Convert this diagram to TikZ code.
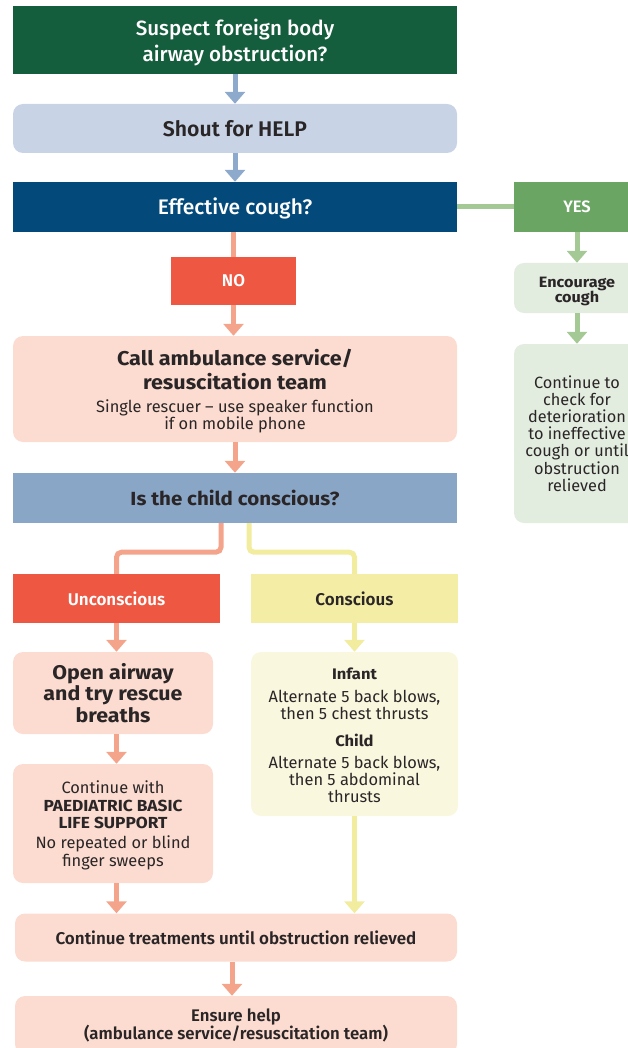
\documentclass[tikz,border=0pt]{standalone}
\usepackage{fontspec}
\setmainfont{Fira Sans}[BoldFeatures={FakeStretch=1.08}]
\IfFontExistsTF{Fira Sans SemiBold}
  {\newfontfamily\semib{Fira Sans SemiBold}}
  {\newcommand\semib{\bfseries}}
\IfFontExistsTF{Fira Sans Medium}
  {\newfontfamily\medfont{Fira Sans Medium}}
  {\newfontfamily\medfont{Fira Sans}}
\usetikzlibrary{arrows.meta}

% palette
\definecolor{dkgreen}{HTML}{155E3D}
\definecolor{navy}{HTML}{034A7B}
\definecolor{helpfill}{HTML}{C8D4E5}
\definecolor{consfill}{HTML}{8AA6C7}
\definecolor{bluearr}{HTML}{8DA9CC}
\definecolor{salmon}{HTML}{F4A48B}
\definecolor{alert}{HTML}{EE5843}
\definecolor{pink}{HTML}{FCDCD0}
\definecolor{yelline}{HTML}{F2EC9E}
\definecolor{yelbox}{HTML}{F3EDA6}
\definecolor{yelfill}{HTML}{FAF7DF}
\definecolor{grn}{HTML}{6BA563}
\definecolor{grnline}{HTML}{A4C995}
\definecolor{grnfill}{HTML}{E2ECDF}
\definecolor{ink}{HTML}{2A2526}

% font size with fixed baseline distance
\newcommand\setfs[2]{\lineskiplimit=-100pt\lineskip=0pt\fontsize{#1}{#2}\selectfont}
% invisible strut that makes a first line taller
\newcommand\tallrow[1]{\rule{0pt}{#1}}

\begin{document}
\begin{tikzpicture}[x=1pt,y=-1pt,
  box/.style={inner sep=0pt, align=center, text=ink},
  sq/.style={box, rectangle},
  rnd/.style={box, rectangle, rounded corners=10pt},
  tip/.style={-{Triangle[width=20pt,length=12pt]}},
  conn/.style={line width=5pt},
  barr/.style={conn, tip, draw=bluearr},
  sarr/.style={conn, tip, draw=salmon},
  slink/.style={conn, draw=salmon},
  yarr/.style={conn, tip, draw=yelline},
  ylink/.style={conn, draw=yelline},
  garr/.style={conn, tip, draw=grnline},
  glink/.style={conn, draw=grnline},
]
\useasboundingbox (0,0) rectangle (628,1048);

% main column
\node[sq, fill=dkgreen, text=white, minimum width=444pt, minimum height=68pt,
      font=\setfs{20.6}{26.7}\medfont] (suspect) at (235,40)
  {\tallrow{21.7pt}Suspect foreign body\\airway obstruction?};
\node[rnd, fill=helpfill, minimum width=444pt, minimum height=49pt,
      font=\setfs{21.2}{24}\semib] (help) at (235,128.5) {Shout for HELP};
\node[sq, fill=navy, text=white, minimum width=444pt, minimum height=50pt,
      font=\setfs{21}{24}\medfont] (cough) at (235,207) {\tallrow{20pt}Effective cough?};

% YES branch
\node[sq, fill=grn, text=white, minimum width=126pt, minimum height=50pt,
      font=\setfs{16.5}{18}\semib] (yes) at (577,207) {YES};
\node[rnd, fill=grnfill, minimum width=126pt, minimum height=50pt,
      font=\setfs{15}{15.7}] (encourage) at (577,288)
  {\tallrow{17.4pt}\bfseries Encourage\\\bfseries cough};
\node[rnd, fill=grnfill, minimum width=126pt, minimum height=179pt,
      font=\setfs{16.3}{17.2}] (check) at (577,433.5)
  {Continue to\\check for\\deterioration\\to ineffective\\cough or until\\obstruction\\relieved};

% NO branch
\node[sq, fill=alert, text=white, minimum width=125pt, minimum height=48pt,
      font=\setfs{17}{18}\semib] (no) at (233.5,281) {NO};
\node[rnd, fill=pink, minimum width=444pt, minimum height=106pt,
      font=\setfs{16.4}{16.7}] (call) at (235,389)
  {\tallrow{20.2pt}\setfs{20}{24}\bfseries Call ambulance service/\\[7.3pt]
   \setfs{20}{24}\bfseries resuscitation team\\[6.3pt]
   Single rescuer -- use speaker function\\
   if on mobile phone};
\node[sq, fill=consfill, minimum width=444pt, minimum height=50pt,
      font=\setfs{19}{22}\bfseries] (childq) at (235,498) {Is the child conscious?};

% conscious / unconscious
\node[sq, fill=alert, text=white, minimum width=207pt, minimum height=49pt,
      font=\setfs{17}{18}\semib] (uncon) at (116.5,598.5) {Unconscious};
\node[sq, fill=yelbox, minimum width=207pt, minimum height=49pt,
      font=\setfs{17}{18}\semib] (con) at (354.5,598.5) {Conscious};

\node[rnd, fill=pink, minimum width=200pt, minimum height=82pt,
      font=\setfs{19.8}{21.7}] (open) at (113,693)
  {\bfseries Open airway\\\bfseries and try rescue\\\bfseries breaths};
\node[rnd, fill=pink, minimum width=200pt, minimum height=119pt,
      font=\setfs{16.4}{17.2}] (bls) at (113,823.5)
  {\tallrow{16.5pt}Continue with\\\setfs{16}{17.2}\bfseries PAEDIATRIC BASIC\\\setfs{16}{17.2}\bfseries LIFE SUPPORT\\[3.5pt]
   No repeated or blind\\finger sweeps};
\node[rnd, fill=yelfill, minimum width=207pt, minimum height=164pt,
      font=\setfs{16.4}{17.2}] (thrusts) at (354.5,734)
  {\tallrow{14.6pt}\setfs{15.3}{17.2}\bfseries Infant\\[5.3pt]Alternate 5 back blows,\\then 5 chest thrusts\\[9.8pt]
   \setfs{15.3}{17.2}\bfseries Child\\[4.8pt]Alternate 5 back blows,\\then 5 abdominal\\thrusts};

% closing steps
\node[rnd, fill=pink, minimum width=442pt, minimum height=48pt,
      font=\setfs{17}{18}\semib] (treat) at (236,937.5)
  {Continue treatments until obstruction relieved};
\node[rnd, fill=pink, minimum width=442pt, minimum height=58pt,
      font=\setfs{16.8}{18}] (ensure) at (236,1025)
  {\semib Ensure help\\\semib (ambulance service/resuscitation team)};

% connectors
\draw[barr] (suspect.south) -- (help.north);
\draw[barr] (help.south) -- (cough.north);
\draw[glink] (cough.east) -- (yes.west);
\draw[garr] (yes.south) -- (encourage.north);
\draw[garr] (encourage.south) -- (check.north);
\draw[slink] (cough.south -| no.north) -- (no.north);
\draw[sarr] (no.south) -- (no.south |- call.north);
\draw[sarr] (call.south) -- (childq.north);
\draw[slink, rounded corners=5pt] ([xshift=-14pt]childq.south) -- ++(0,29) -| (uncon.north);
\draw[ylink, rounded corners=5pt] ([xshift=14pt]childq.south) -- ++(0,29) -| (con.north);
\draw[sarr] (uncon.south) -- (uncon.south |- open.north);
\draw[yarr] (con.south) -- (thrusts.north);
\draw[sarr] (uncon.south |- open.south) -- (uncon.south |- bls.north);
\draw[sarr] (uncon.south |- bls.south) -- (uncon.south |- treat.north);
\draw[yarr] (thrusts.south) -- (thrusts.south |- treat.north);
\draw[sarr] ([xshift=-4pt]treat.south) -- ([xshift=-4pt]treat.south |- ensure.north);
\end{tikzpicture}
\end{document}
